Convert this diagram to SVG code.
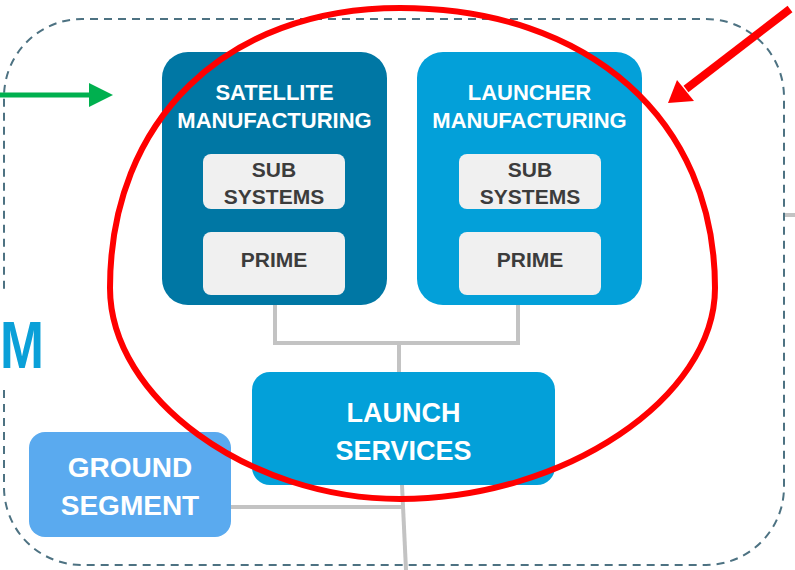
<svg xmlns="http://www.w3.org/2000/svg" width="795" height="570" viewBox="0 0 795 570">
<style>
.title{font-family:"Liberation Sans",Arial,sans-serif;font-weight:bold;fill:#ffffff;text-anchor:middle}
.sub{font-family:"Liberation Sans",Arial,sans-serif;font-weight:bold;fill:#3c3c3c;text-anchor:middle;font-size:21px}
.inner{fill:#f0f0f0}
.conn{stroke:#c3c3c3;stroke-width:4;fill:none}
</style>
<rect width="795" height="570" fill="#ffffff"/>
<path id="container" d="M4,390 L4,487 A78,78 0 0 0 82,565 L706,565 A78,78 0 0 0 784,487 L784,97 A78,78 0 0 0 706,19 L82,19 A78,78 0 0 0 4,97 L4,293" fill="none" stroke="#4d7282" stroke-width="2" stroke-dasharray="8,6"/>
<text x="0" y="368" textLength="44" lengthAdjust="spacingAndGlyphs" font-family="Liberation Sans,Arial,sans-serif" font-weight="bold" font-size="66" fill="#0aa0d8">M</text>
<g id="connectors">
<path class="conn" d="M275,305 L275,343 L518,343 L518,305"/>
<path class="conn" d="M399,343 L399,373"/>
<path class="conn" d="M231,507 L404,507"/>
<path class="conn" d="M402,485 L406,570"/>
<path class="conn" d="M785,215 L795,215"/>
<line x1="274" y1="208" x2="274" y2="233" stroke="#e6eef2" stroke-width="5"/>
<line x1="530" y1="208" x2="530" y2="233" stroke="#e6eef2" stroke-width="5"/>
</g>
<g id="satellite">
<rect x="162" y="52" width="225" height="253" rx="26" fill="#0077a4"/>
<text class="title" x="274.5" y="100" font-size="22">SATELLITE</text>
<text class="title" x="274.5" y="128" font-size="22">MANUFACTURING</text>
<g id="sat-sub"><rect class="inner" x="203" y="154" width="142" height="55" rx="8"/>
<text class="sub" x="274" y="177">SUB</text><text class="sub" x="274" y="204">SYSTEMS</text></g>
<g id="sat-prime"><rect class="inner" x="203" y="232" width="142" height="63" rx="8"/>
<text class="sub" x="274" y="267">PRIME</text></g>
</g>
<g id="launcher">
<rect x="417" y="52" width="225" height="253" rx="26" fill="#03a0d9"/>
<text class="title" x="529.5" y="100" font-size="22">LAUNCHER</text>
<text class="title" x="529.5" y="128" font-size="22">MANUFACTURING</text>
<g id="lau-sub"><rect class="inner" x="459" y="154" width="142" height="55" rx="8"/>
<text class="sub" x="530" y="177">SUB</text><text class="sub" x="530" y="204">SYSTEMS</text></g>
<g id="lau-prime"><rect class="inner" x="459" y="232" width="142" height="63" rx="8"/>
<text class="sub" x="530" y="267">PRIME</text></g>
</g>
<g id="launch-services">
<rect x="252" y="372" width="303" height="113" rx="18" fill="#03a0d9"/>
<text class="title" x="403.5" y="422" font-size="27">LAUNCH</text>
<text class="title" x="403.5" y="460" font-size="27">SERVICES</text>
</g>
<g id="ground-segment">
<rect x="29" y="432" width="202" height="105" rx="16" fill="#5aaaef"/>
<text class="title" x="130" y="477" font-size="28">GROUND</text>
<text class="title" x="130" y="515" font-size="28">SEGMENT</text>
</g>
<g id="annotations">
<path d="M400,8 C589,8 715,120 715,288 C715,398 564,499 400,499 C249,499 110,398 110,288 C110,120 226,8 400,8 Z" fill="none" stroke="#ff0000" stroke-width="6"/>
<line x1="0" y1="95" x2="92" y2="95" stroke="#00b04f" stroke-width="5"/>
<polygon points="89,83 113,95 89,107" fill="#00b04f"/>
<line x1="790" y1="9" x2="686" y2="89" stroke="#ff0000" stroke-width="8"/>
<polygon points="668,103 677,80 694,101" fill="#ff0000"/>
</g>
</svg>
